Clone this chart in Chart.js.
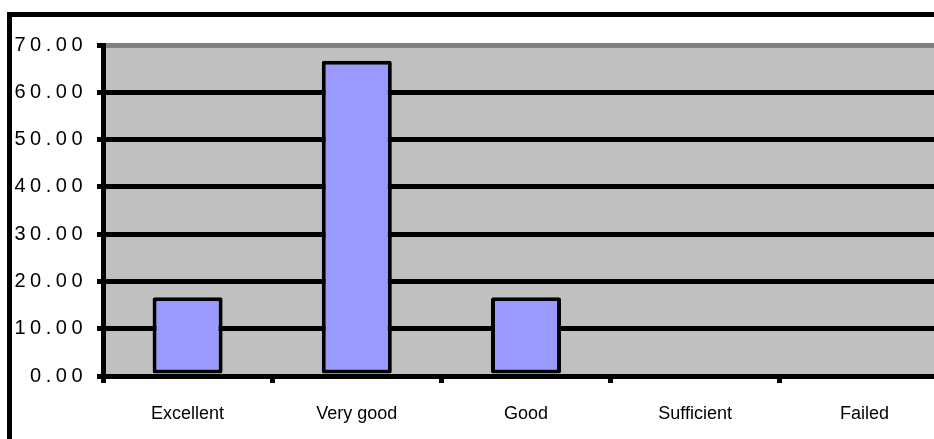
<!DOCTYPE html>
<html>
<head>
<meta charset="utf-8">
<script src="https://cdn.jsdelivr.net/npm/chart.js@4.4.1/dist/chart.umd.min.js"></script>
<style>
  html, body { margin: 0; padding: 0; background: #fff; overflow: hidden; width: 934px; height: 439px; }
  #frame { position: absolute; left: 7px; top: 12px; width: 2000px; height: 1000px; border: 5px solid #000; }
  #grades { position: absolute; left: 0; top: 0; }
</style>
</head>
<body>
<div id="frame"></div>
<canvas id="grades" width="960" height="439" style="width:960px;height:439px"></canvas>
<script>
// categories and values (percent of students)
let grades = ["Excellent", "Very good", "Good", "Sufficient", "Failed"];
let percents = [16.67, 66.67, 16.67, 0, 0];
let yTicks = [0, 10, 20, 30, 40, 50, 60, 70];

// gray plot area like the old spreadsheet chart
let plotBg = {
  id: 'plotBg',
  beforeDraw(chart) {
    let a = chart.chartArea;
    chart.ctx.save();
    chart.ctx.fillStyle = '#c0c0c0';
    chart.ctx.fillRect(a.left, a.top, a.right - a.left, a.bottom - a.top);
    chart.ctx.restore();
  }
};

// wide spaced numbers on the value axis (y labels are drawn after the bars)
let spacing = {
  id: 'spacing',
  afterDatasetsDraw(chart) { chart.ctx.letterSpacing = '4.5px'; },
  afterDraw(chart) { chart.ctx.letterSpacing = '0px'; }
};

let ctx = document.getElementById("grades").getContext("2d");

let barChart = new Chart(ctx, {
  type: 'bar',
  data: {
    labels: grades,
    datasets: [{
      data: percents,
      backgroundColor: '#9999ff',
      borderColor: '#000000',
      borderWidth: 4,
      borderRadius: 2,
      borderSkipped: false,
      barPercentage: 0.414,
      categoryPercentage: 1
    }]
  },
  options: {
    responsive: false,
    animation: false,
    layout: { padding: { top: 45, left: 0, right: 11, bottom: 14 } },
    plugins: { legend: { display: false }, tooltip: { enabled: false } },
    scales: {
      x: {
        afterFit(scale) { scale.height = 49; },
        grid: { display: true, drawOnChartArea: false, tickLength: 7, tickWidth: 5, tickColor: '#000' },
        border: { color: '#000', width: 5 },
        ticks: { color: '#000', padding: 20, font: { family: 'Liberation Sans', size: 18 } }
      },
      y: {
        min: 0,
        max: 70,
        afterFit(scale) { scale.width = 103; },
        afterBuildTicks(scale) { scale.ticks = yTicks.map(v => ({ value: v })); },
        grid: {
          color: c => c.tick && c.tick.value === 70 ? '#808080' : '#000',
          lineWidth: 5,
          tickLength: 6,
          tickColor: '#000'
        },
        border: { color: '#000', width: 5 },
        ticks: {
          z: 1,
          color: '#000',
          padding: 10,
          font: { family: 'Liberation Sans', size: 20 },
          callback: v => v.toFixed(2)
        }
      }
    }
  },
  plugins: [plotBg, spacing]
});
</script>
</body>
</html>
